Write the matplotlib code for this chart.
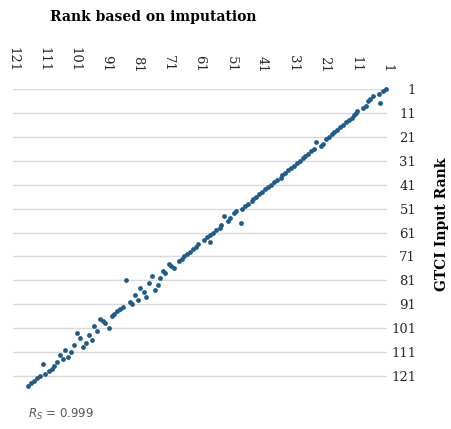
import matplotlib.pyplot as plt

# GTCI input rank (y) and rank based on imputation (x)
input_rank = [
    1, 2, 3, 4, 5, 6, 7, 8, 9, 10,
    11, 12, 13, 14, 15, 16, 17, 18, 19, 20,
    21, 22, 23, 24, 25, 26, 27, 28, 29, 30,
    31, 32, 33, 34, 35, 36, 37, 38, 39, 40,
    41, 42, 43, 44, 45, 46, 47, 48, 49, 50,
    51, 52, 53, 54, 55, 56, 57, 58, 59, 60,
    61, 62, 63, 64, 65, 66, 67, 68, 69, 70,
    71, 72, 73, 74, 75, 76, 77, 78, 79, 80,
    81, 82, 83, 84, 85, 86, 87, 88, 89, 90,
    91, 92, 93, 94, 95, 96, 97, 98, 99, 100,
    101, 102, 103, 104, 105, 106, 107, 108, 109, 110,
    111, 112, 113, 114, 115, 116, 117, 118, 119, 120,
    121, 122, 123, 124, 125,
]
imputed_rank = [
    1.2, 2.2, 3.5, 5.6, 6.3, 7.0, 3.3, 7.7, 8.6, 10.5,
    10.9, 11.5, 12.3, 13.3, 14.2, 15.1, 16.0, 17.0, 17.9, 18.8,
    19.7, 20.7, 23.7, 21.4, 22.1, 24.4, 25.3, 26.2, 27.2, 28.1,
    29.0, 29.9, 30.9, 31.8, 32.7, 33.6, 34.8, 35.1, 36.4, 37.3,
    38.3, 39.2, 40.1, 41.0, 42.0, 42.9, 44.1, 44.4, 45.7, 46.6,
    47.6, 49.4, 50.2, 53.3, 51.5, 52.1, 47.7, 54.2, 54.7, 55.9,
    56.8, 57.7, 58.6, 59.8, 57.9, 61.6, 62.3, 63.2, 64.1, 65.1,
    66.0, 66.9, 67.8, 71.0, 70.2, 69.2, 72.9, 72.2, 76.4, 73.8,
    84.7, 77.4, 74.5, 80.1, 75.4, 79.1, 82.0, 78.3, 81.0, 83.6,
    82.8, 85.8, 86.7, 87.6, 88.5, 89.3, 93.2, 92.2, 91.4, 94.9,
    90.3, 94.0, 100.5, 96.7, 99.5, 95.8, 97.6, 101.3, 98.6, 104.2,
    102.4, 106.0, 103.2, 105.1, 106.9, 111.5, 107.7, 108.6, 109.6, 110.6,
    112.3, 113.3, 114.3, 115.3, 116.3,
]
rank_ticks = [1, 11, 21, 31, 41, 51, 61, 71, 81, 91, 101, 111, 121]
spearman_text = r"$R_S$ = 0.999"

plt.rcParams['font.family'] = 'DejaVu Serif'

fig = plt.figure(figsize=(4.51, 4.29), dpi=100)
ax = fig.add_axes([13 / 451, 38.6 / 429, 374 / 451, 301.4 / 429])

ax.scatter(imputed_rank, input_rank, s=12, color='#1f5c8c', linewidths=0,
           clip_on=False, zorder=3)

ax.set_xlim(121, 1)
ax.set_ylim(127, 1)
ax.set_xticks(rank_ticks)
ax.set_yticks(rank_ticks)
ax.xaxis.tick_top()
ax.yaxis.tick_right()
ax.tick_params(length=0, labelsize=9.5, labelcolor='#262626')
ax.tick_params(axis='x', pad=12, labelrotation=-90)
ax.tick_params(axis='y', pad=21)
for lab in ax.get_yticklabels():
    lab.set_horizontalalignment('right')

ax.grid(axis='y', color='#d9d9d9', linewidth=1)
ax.set_axisbelow(True)
for s in ax.spines.values():
    s.set_visible(False)

fig.text(153 / 451, 1 - 17 / 429, 'Rank based on imputation', ha='center',
         va='center', fontsize=10, fontweight='bold')
fig.text(442 / 451, 1 - 224 / 429, 'GTCI Input Rank', ha='center',
         va='center', rotation=90, fontsize=10, fontweight='bold')
fig.text(28 / 451, 1 - 414 / 429, spearman_text, ha='left', va='center',
         fontsize=8.5, color='#595959', family='DejaVu Sans')

fig.savefig('out.png', dpi=100)
